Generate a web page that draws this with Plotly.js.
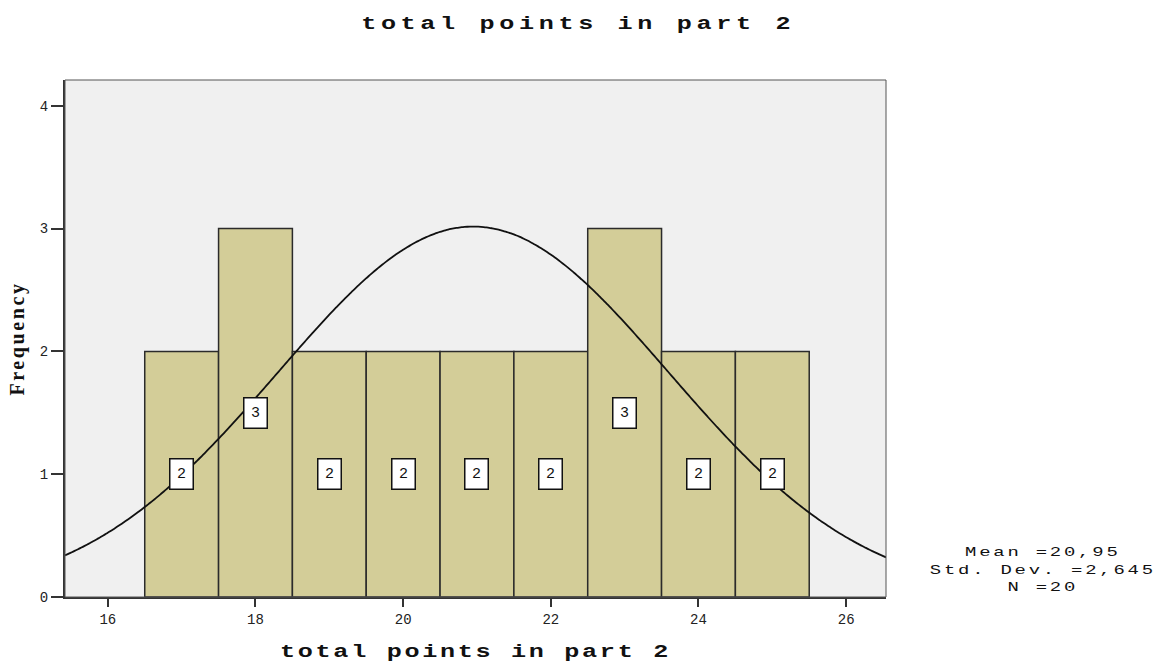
<!DOCTYPE html>
<html>
<head>
<meta charset="utf-8">
<script src="https://cdn.plot.ly/plotly-3.0.1.min.js"></script>
<style>
  html, body { margin: 0; padding: 0; background: #ffffff; }
  #chart { width: 1168px; height: 662px; }
  /* wide, typewriter-style lettering for the headings and statistics */
  #chart .gtitle {
    letter-spacing: 3.3px;
    transform-box: fill-box;
    transform-origin: center;
    transform: scaleX(1.4);
  }
  #chart .xtitle {
    letter-spacing: 1.9px;
    transform-box: fill-box;
    transform-origin: center;
    transform: scaleX(1.4);
  }
  #chart .ytitle { letter-spacing: 2.6px; }
  #chart .annotation[data-index="9"] text {
    letter-spacing: 2px;
    transform-box: fill-box;
    transform-origin: center;
    transform: scaleX(1.4);
  }
</style>
</head>
<body>
<div id="chart"></div>
<script>
// Histogram of total points in part 2 (bin width 1)
const binCenters = [17, 18, 19, 20, 21, 22, 23, 24, 25];
const frequencies = [2, 3, 2, 2, 2, 2, 3, 2, 2];
const xTicks = [16, 18, 20, 22, 24, 26];
const yTicks = [0, 1, 2, 3, 4];

// Summary statistics for the fitted normal curve
const meanValue = 20.95;
const stdDev = 2.645;
const nCount = 20;
const binWidth = 1;

const xRange = [15.42, 26.54];

// Normal density scaled to counts per bin
const curveX = [];
const curveY = [];
const steps = 300;
for (let i = 0; i <= steps; i++) {
  const x = xRange[0] + (xRange[1] - xRange[0]) * i / steps;
  const z = (x - meanValue) / stdDev;
  curveX.push(x);
  curveY.push(nCount * binWidth / (stdDev * Math.sqrt(2 * Math.PI)) * Math.exp(-0.5 * z * z));
}

const bars = {
  type: 'bar',
  x: binCenters,
  y: frequencies,
  width: binWidth,
  marker: { color: '#d3cd98', line: { color: '#2b2b2b', width: 1.5 } },
  hoverinfo: 'x+y'
};

const curve = {
  type: 'scatter',
  mode: 'lines',
  x: curveX,
  y: curveY,
  line: { color: '#111111', width: 1.8, shape: 'spline' },
  hoverinfo: 'skip'
};

const mono = 'Liberation Mono, Courier New, monospace';

// Count labels centred in each bar
const countLabels = binCenters.map((c, i) => ({
  x: c,
  y: frequencies[i] / 2,
  xref: 'x',
  yref: 'y',
  text: String(frequencies[i]),
  showarrow: false,
  font: { family: mono, size: 15, color: '#111' },
  bgcolor: '#ffffff',
  bordercolor: '#111111',
  borderwidth: 1.5,
  borderpad: 2,
  width: 18,
  height: 25
}));

const statsLabel = {
  xref: 'paper',
  yref: 'paper',
  x: 1.191,
  y: 0.052,
  xanchor: 'center',
  yanchor: 'middle',
  showarrow: false,
  align: 'center',
  text: 'Mean =20,95<br>Std. Dev. =2,645<br>N =20',
  font: { family: mono, size: 13.5, color: '#111' }
};

const layout = {
  width: 1168,
  height: 662,
  margin: { l: 65, r: 282, t: 80, b: 65 },
  paper_bgcolor: '#ffffff',
  plot_bgcolor: '#f0f0f0',
  showlegend: false,
  bargap: 0,
  title: {
    text: '<b>total points in part 2</b>',
    x: 0.495,
    xref: 'container',
    y: 0.966,
    yanchor: 'middle',
    font: { family: mono, size: 18, color: '#111' }
  },
  xaxis: {
    range: xRange,
    tickvals: xTicks,
    ticktext: xTicks.map(String),
    ticks: 'outside',
    ticklen: 8,
    tickwidth: 2,
    tickcolor: '#333',
    showgrid: false,
    zeroline: false,
    showline: true,
    linecolor: '#333',
    linewidth: 2,
    mirror: false,
    tickfont: { family: mono, size: 14, color: '#222' },
    title: {
      text: '<b>total points in part 2</b>',
      font: { family: mono, size: 18, color: '#111' },
      standoff: 18
    }
  },
  yaxis: {
    range: [0, 4.21],
    tickvals: yTicks,
    ticktext: yTicks.map(String),
    ticks: 'outside',
    ticklen: 12,
    tickwidth: 2,
    tickcolor: '#333',
    showgrid: false,
    zeroline: false,
    showline: true,
    linecolor: '#333',
    linewidth: 2,
    tickfont: { family: mono, size: 14, color: '#222' },
    title: {
      text: '<b>Frequency</b>',
      font: { family: 'Liberation Serif, Times New Roman, serif', size: 20, color: '#111' },
      standoff: 10
    }
  },
  shapes: [
    // light frame along the top and right of the plot area
    { type: 'rect', xref: 'paper', yref: 'paper', x0: 0, x1: 1, y0: 0, y1: 1,
      line: { color: '#555', width: 1 }, fillcolor: 'rgba(0,0,0,0)', layer: 'above' }
  ],
  annotations: countLabels.concat([statsLabel])
};

Plotly.newPlot('chart', [bars, curve], layout, { displayModeBar: false, staticPlot: true });
</script>
</body>
</html>
